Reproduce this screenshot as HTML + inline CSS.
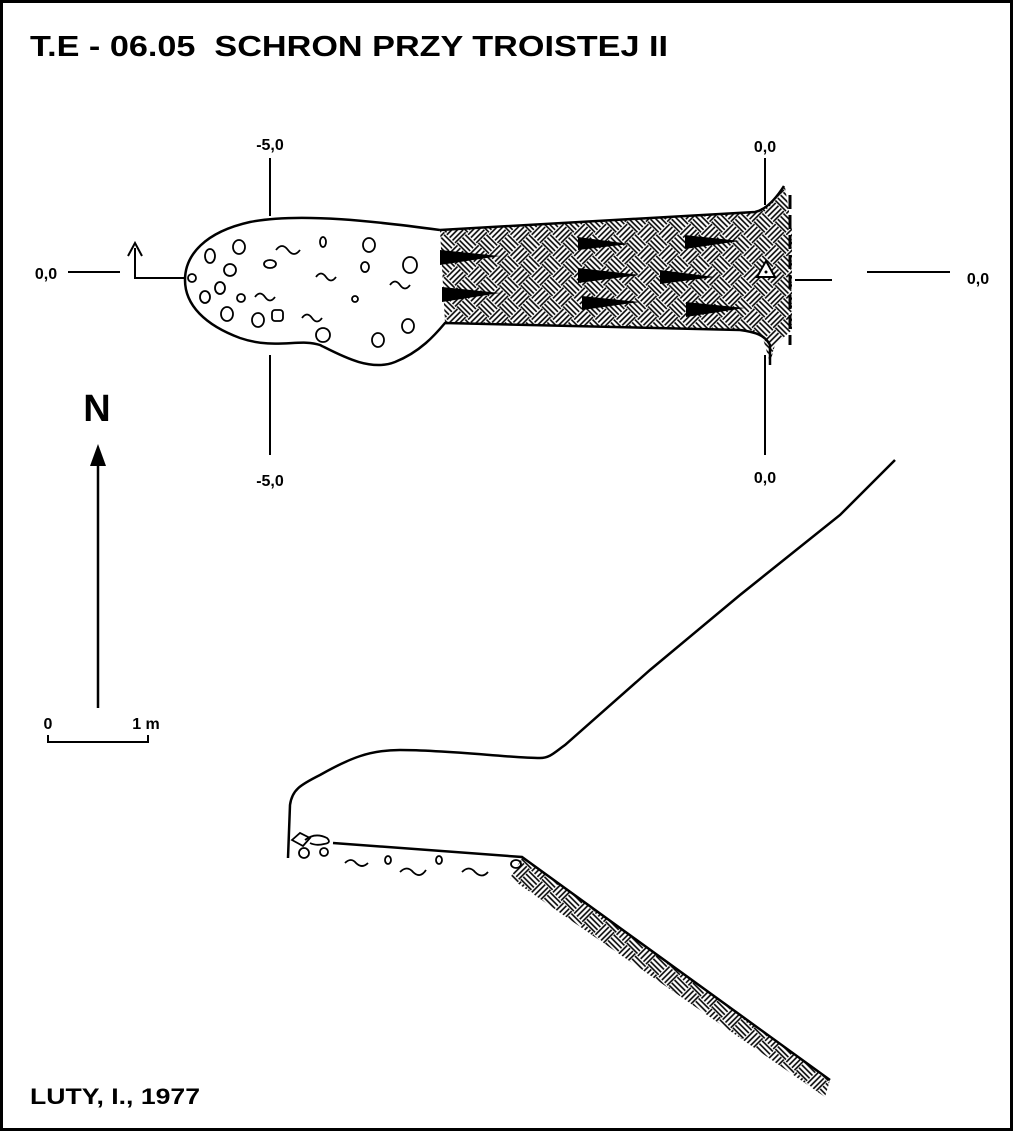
<!DOCTYPE html>
<html><head><meta charset="utf-8"><style>
html,body{margin:0;padding:0;background:#fff}
svg{display:block}
text{font-family:"Liberation Sans",Arial,sans-serif;font-weight:bold;fill:#000}
</style></head><body>
<svg width="1013" height="1131" viewBox="0 0 1013 1131" xmlns="http://www.w3.org/2000/svg">
<defs>
<pattern id="bw" width="30" height="30" patternUnits="userSpaceOnUse" patternTransform="rotate(45)">
<g stroke="#000" stroke-width="1.6">
<line x1="0" y1="2" x2="15" y2="2"/><line x1="0" y1="6" x2="15" y2="6"/><line x1="0" y1="10" x2="15" y2="10"/><line x1="0" y1="13.5" x2="15" y2="13.5"/>
<line x1="17" y1="0" x2="17" y2="15"/><line x1="21" y1="0" x2="21" y2="15"/><line x1="25" y1="0" x2="25" y2="15"/><line x1="28.5" y1="0" x2="28.5" y2="15"/>
<line x1="2" y1="15" x2="2" y2="30"/><line x1="6" y1="15" x2="6" y2="30"/><line x1="10" y1="15" x2="10" y2="30"/><line x1="13.5" y1="15" x2="13.5" y2="30"/>
<line x1="15" y1="17" x2="30" y2="17"/><line x1="15" y1="21" x2="30" y2="21"/><line x1="15" y1="25" x2="30" y2="25"/><line x1="15" y1="28.5" x2="30" y2="28.5"/>
</g>
</pattern>
</defs>
<rect x="1.5" y="1.5" width="1010" height="1128" fill="none" stroke="#000" stroke-width="3"/>
<text x="30" y="56" font-size="29" textLength="638" lengthAdjust="spacingAndGlyphs" xml:space="preserve">T.E - 06.05  SCHRON PRZY TROISTEJ II</text>
<text x="30" y="1104" font-size="22" textLength="170" lengthAdjust="spacingAndGlyphs">LUTY, I., 1977</text>

<g stroke="#000" stroke-width="2" fill="none">
<line x1="270" y1="158" x2="270" y2="216"/><line x1="270" y1="355" x2="270" y2="455"/>
<line x1="765" y1="158" x2="765" y2="205"/><line x1="765" y1="355" x2="765" y2="455"/>
<line x1="68" y1="272" x2="120" y2="272"/>
<line x1="795" y1="280" x2="832" y2="280"/><line x1="867" y1="272" x2="950" y2="272"/>
<polyline points="185,278 135,278 135,248"/>
<polyline points="128,256 135,243 142,256"/>
</g>
<text x="270" y="150" font-size="16" text-anchor="middle">-5,0</text>
<text x="270" y="486" font-size="16" text-anchor="middle">-5,0</text>
<text x="765" y="152" font-size="16" text-anchor="middle">0,0</text>
<text x="765" y="483" font-size="16" text-anchor="middle">0,0</text>
<text x="46" y="279" font-size="16" text-anchor="middle">0,0</text>
<text x="978" y="284" font-size="16" text-anchor="middle">0,0</text>

<path d="M440,230 L755,212 L775,200 L785,187 L792,230 L792,330 L775,345 L770,363 L762,335 L740,330 L445,323 Z" fill="url(#bw)"/>
<path d="M440,230 C380,222 300,212 250,222 C205,232 185,255 185,280 C185,305 205,325 240,338 C275,350 300,338 320,345 C340,355 370,372 395,362 C420,352 435,335 445,323 L740,330 C755,332 765,335 770,345 L770,365 M440,230 L755,212 C765,210 775,200 784,186" fill="none" stroke="#000" stroke-width="2.5"/>
<line x1="790" y1="195" x2="790" y2="345" stroke="#000" stroke-width="3" stroke-dasharray="14,6"/>
<g fill="#000">
<polygon points="440,250 440,265 500,256"/>
<polygon points="442,287 442,302 500,293"/>
<polygon points="578,237 578,250 630,244"/>
<polygon points="578,268 578,283 640,275"/>
<polygon points="582,296 582,310 640,302"/>
<polygon points="685,235 685,249 740,241"/>
<polygon points="660,270 660,284 715,277"/>
<polygon points="686,302 686,317 745,308"/>
</g>
<polygon points="757,277 766,261 775,277" fill="#fff" stroke="#000" stroke-width="2"/>
<circle cx="766" cy="272" r="1.5"/>
<g fill="none" stroke="#000" stroke-width="1.8">
<ellipse cx="192" cy="278" rx="4" ry="4"/>
<ellipse cx="210" cy="256" rx="5" ry="7"/><ellipse cx="239" cy="247" rx="6" ry="7"/>
<ellipse cx="230" cy="270" rx="6" ry="6"/><ellipse cx="220" cy="288" rx="5" ry="6"/>
<ellipse cx="205" cy="297" rx="5" ry="6"/><ellipse cx="241" cy="298" rx="4" ry="4"/>
<ellipse cx="227" cy="314" rx="6" ry="7"/><ellipse cx="258" cy="320" rx="6" ry="7"/>
<rect x="272" y="310" width="11" height="11" rx="3"/>
<ellipse cx="270" cy="264" rx="6" ry="4"/>
<ellipse cx="323" cy="242" rx="3" ry="5"/><ellipse cx="369" cy="245" rx="6" ry="7"/>
<ellipse cx="365" cy="267" rx="4" ry="5"/><ellipse cx="410" cy="265" rx="7" ry="8"/>
<ellipse cx="355" cy="299" rx="3" ry="3"/><ellipse cx="323" cy="335" rx="7" ry="7"/>
<ellipse cx="378" cy="340" rx="6" ry="7"/><ellipse cx="408" cy="326" rx="6" ry="7"/>
<path d="M276,250 q6,-8 12,0 q6,8 12,0"/>
<path d="M316,277 q5,-7 10,0 q5,7 10,0"/>
<path d="M255,297 q5,-7 10,0 q5,7 10,0"/>
<path d="M390,285 q5,-7 10,0 q5,7 10,0"/>
<path d="M302,318 q5,-7 10,0 q5,7 10,0"/>
</g>

<text x="97" y="421" font-size="38" text-anchor="middle">N</text>
<line x1="98" y1="460" x2="98" y2="708" stroke="#000" stroke-width="2.5"/>
<polygon points="98,444 90,466 106,466" fill="#000"/>
<text x="48" y="729" font-size="16" text-anchor="middle">0</text>
<text x="146" y="729" font-size="16" text-anchor="middle">1 m</text>
<polyline points="48,735 48,742 148,742 148,735" fill="none" stroke="#000" stroke-width="2"/>

<path d="M522,858 L830,1080 L825,1097 L510,878 Z" fill="url(#bw)"/>
<g fill="none" stroke="#000" stroke-width="2.5">
<path d="M288,858 L290,805 C292,790 300,785 320,775 C350,758 370,750 400,750 C450,750 510,758 540,758 C550,758 555,752 565,745 L650,670 L740,595 L840,515 L895,460"/>
<polyline points="333,843 522,857 830,1080"/>
</g>
<g fill="none" stroke="#000" stroke-width="1.8">
<polygon points="292,840 300,833 310,838 303,846"/>
<path d="M305,840 q10,-8 22,-2 q5,5 -3,6 q-8,2 -14,-1"/>
<circle cx="304" cy="853" r="5"/><circle cx="324" cy="852" r="4"/>
<path d="M345,863 q6,-6 11,0 q6,6 12,0"/>
<ellipse cx="388" cy="860" rx="3" ry="4"/>
<path d="M400,872 q7,-7 13,0 q7,7 13,-2"/>
<ellipse cx="439" cy="860" rx="3" ry="4"/>
<path d="M462,872 q7,-7 13,0 q7,7 13,0"/>
<ellipse cx="516" cy="864" rx="5" ry="4"/>
</g>
</svg>
</body></html>
